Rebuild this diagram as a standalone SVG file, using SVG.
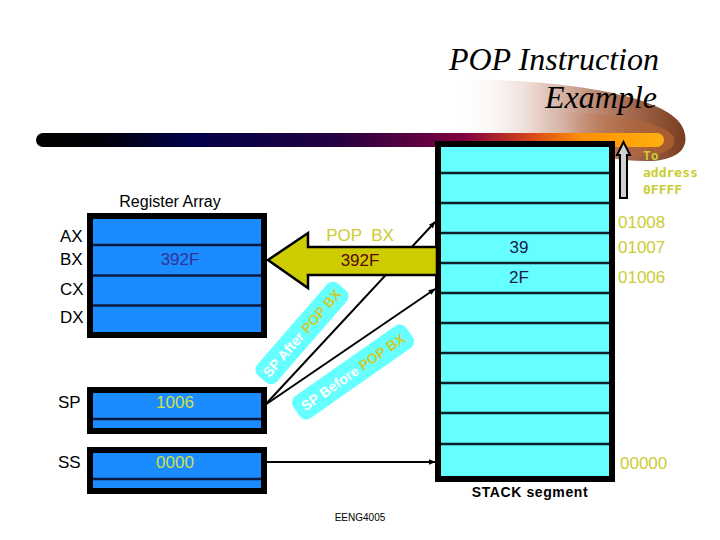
<svg xmlns="http://www.w3.org/2000/svg" width="720" height="540" viewBox="0 0 720 540">
<defs>
<linearGradient id="barG" x1="0" y1="0" x2="1" y2="0">
<stop offset="0" stop-color="#000000"/>
<stop offset="0.1" stop-color="#000008"/>
<stop offset="0.24" stop-color="#000048"/>
<stop offset="0.47" stop-color="#200040"/>
<stop offset="0.68" stop-color="#800040"/>
<stop offset="0.79" stop-color="#d84818"/>
<stop offset="0.87" stop-color="#ff9000"/>
<stop offset="1" stop-color="#ffb010"/>
</linearGradient>
<linearGradient id="swG" x1="0" y1="0" x2="1" y2="0">
<stop offset="0" stop-color="#ffffff" stop-opacity="0"/>
<stop offset="0.3" stop-color="#f0e0da"/>
<stop offset="0.65" stop-color="#b88068"/>
<stop offset="1" stop-color="#7a3c1e"/>
</linearGradient>
<linearGradient id="swG2" x1="0" y1="0" x2="1" y2="0">
<stop offset="0" stop-color="#c07040" stop-opacity="0"/>
<stop offset="1" stop-color="#b0622e"/>
</linearGradient>
<marker id="ah" viewBox="0 0 10 10" refX="9" refY="5" markerWidth="7" markerHeight="7" orient="auto" markerUnits="userSpaceOnUse">
<path d="M0,1 L10,5 L0,9 Z" fill="#000"/>
</marker>
</defs>
<style>
.lab{font-family:"Liberation Sans",Arial,sans-serif;font-size:17px;fill:#000}
.reg{fill:#1a8cff;stroke:#000;stroke-width:6}
.rsep{stroke:#0a1a40;stroke-width:2.5}
.ssep{stroke:#0a2028;stroke-width:2.5}
.addr{font-family:"Liberation Sans",Arial,sans-serif;font-size:17px;fill:#cccc33}
.val{font-family:"Liberation Sans",Arial,sans-serif;font-size:17px;fill:#cde04a;text-anchor:middle}
.conn{stroke:#000;stroke-width:2;fill:none}
.tag{fill:#66ffff}
.tagt{font-family:"Liberation Sans",Arial,sans-serif;font-size:14px;font-weight:bold;fill:#ffffff;text-anchor:middle}
.hl{fill:#cccc33}
.title{font-family:"Liberation Serif","Times New Roman",serif;font-style:italic;font-size:32px;fill:#000;text-anchor:end}
</style>

<!-- decoration -->
<path d="M455 79 C570 80 665 96 682 126 C692 146 680 159 652 161 C622 162 600 156 582 151 L460 141 Z" fill="url(#swG)"/>
<path d="M560 112 C630 114 670 126 674 138 C677 150 660 156 640 156 L580 150 Z" fill="url(#swG2)" opacity="0.8"/>
<rect x="36" y="133" width="628" height="14" rx="7" fill="url(#barG)"/>

<text class="title" x="659" y="70">POP Instruction</text>
<text class="title" x="657" y="108">Example</text>

<!-- connectors -->
<g id="connectors">
<line class="conn" x1="265" y1="405" x2="435" y2="222" marker-end="url(#ah)"/>
<line class="conn" x1="265" y1="405" x2="435" y2="289" marker-end="url(#ah)"/>
<line class="conn" x1="267" y1="462" x2="435" y2="462" marker-end="url(#ah)"/>
</g>

<!-- register array -->
<g id="register-array">
<text class="lab" x="170" y="207" text-anchor="middle" style="font-size:16px">Register Array</text>
<rect class="reg" x="90" y="216" width="174" height="119"/>
<line class="rsep" x1="93" y1="245" x2="261" y2="245"/>
<line class="rsep" x1="93" y1="275.5" x2="261" y2="275.5"/>
<line class="rsep" x1="93" y1="305.5" x2="261" y2="305.5"/>
<text class="lab" x="60" y="242">AX</text>
<text class="lab" x="60" y="265">BX</text>
<text class="lab" x="60" y="295">CX</text>
<text class="lab" x="60" y="323">DX</text>
<text class="lab" x="180" y="265" text-anchor="middle" style="fill:#333399">392F</text>
</g>

<!-- SP -->
<g id="sp">
<rect class="reg" x="90" y="390" width="174" height="41"/>
<line class="rsep" x1="93" y1="419" x2="261" y2="419"/>
<text class="lab" x="58" y="408">SP</text>
<text class="val" x="175" y="408">1006</text>
</g>

<!-- SS -->
<g id="ss">
<rect class="reg" x="90" y="450" width="174" height="41"/>
<line class="rsep" x1="93" y1="479" x2="261" y2="479"/>
<text class="lab" x="58" y="468">SS</text>
<text class="val" x="175" y="468">0000</text>
</g>

<!-- stack segment -->
<g id="stack">
<rect x="438" y="144" width="174" height="335" fill="#66ffff" stroke="#000" stroke-width="6"/>
<line class="ssep" x1="441" y1="173" x2="609" y2="173"/>
<line class="ssep" x1="441" y1="203" x2="609" y2="203"/>
<line class="ssep" x1="441" y1="233" x2="609" y2="233"/>
<line class="ssep" x1="441" y1="263" x2="609" y2="263"/>
<line class="ssep" x1="441" y1="293" x2="609" y2="293"/>
<line class="ssep" x1="441" y1="323" x2="609" y2="323"/>
<line class="ssep" x1="441" y1="353" x2="609" y2="353"/>
<line class="ssep" x1="441" y1="383" x2="609" y2="383"/>
<line class="ssep" x1="441" y1="413" x2="609" y2="413"/>
<line class="ssep" x1="441" y1="444" x2="609" y2="444"/>
<text class="lab" x="519" y="253" text-anchor="middle" style="fill:#1a1a4d">39</text>
<text class="lab" x="519" y="283" text-anchor="middle" style="fill:#1a1a4d">2F</text>
<text class="addr" x="618" y="228">01008</text>
<text class="addr" x="618" y="253">01007</text>
<text class="addr" x="618" y="283">01006</text>
<text class="addr" x="620" y="469">00000</text>
<text class="lab" x="530" y="497" text-anchor="middle" style="font-size:14px;font-weight:bold;letter-spacing:0.6px">STACK segment</text>
</g>

<!-- up arrow to 0FFFF -->
<g id="to-address">
<polygon points="623.5,142 630,155 627,155 627,198 620,198 620,155 617,155" fill="#d0d0d0" stroke="#000" stroke-width="2"/>
<text font-family="'DejaVu Sans Mono',monospace" font-size="13" fill="#cccc33" font-weight="bold">
<tspan x="643" y="160">To</tspan>
<tspan x="643" y="177">address</tspan>
<tspan x="643" y="194">0FFFF</tspan>
</text>
</g>

<!-- POP BX arrow -->
<g id="pop-arrow">
<polygon points="268,260 308,233 308,247 437,247 437,275 308,275 308,288" fill="#cccc00" stroke="#000" stroke-width="2.5" stroke-linejoin="miter"/>
<text class="lab" x="360" y="241" text-anchor="middle" style="fill:#cccc33" xml:space="preserve">POP  BX</text>
<text class="lab" x="360" y="266" text-anchor="middle" style="fill:#5a0a0a">392F</text>
</g>

<!-- tags -->
<g id="sp-after" transform="translate(302,333) rotate(-49)">
<rect class="tag" x="-61" y="-13" width="122" height="26" rx="8"/>
<text class="tagt" x="0" y="5">SP After <tspan class="hl">POP BX</tspan></text>
</g>
<g id="sp-before" transform="translate(353,372) rotate(-35)">
<rect class="tag" x="-69" y="-13.5" width="138" height="27" rx="8"/>
<text class="tagt" x="0" y="5">SP Before <tspan class="hl">POP BX</tspan></text>
</g>

<text x="360" y="521" font-family="'Liberation Sans',Arial,sans-serif" font-size="10" text-anchor="middle" fill="#000">EENG4005</text>
</svg>
